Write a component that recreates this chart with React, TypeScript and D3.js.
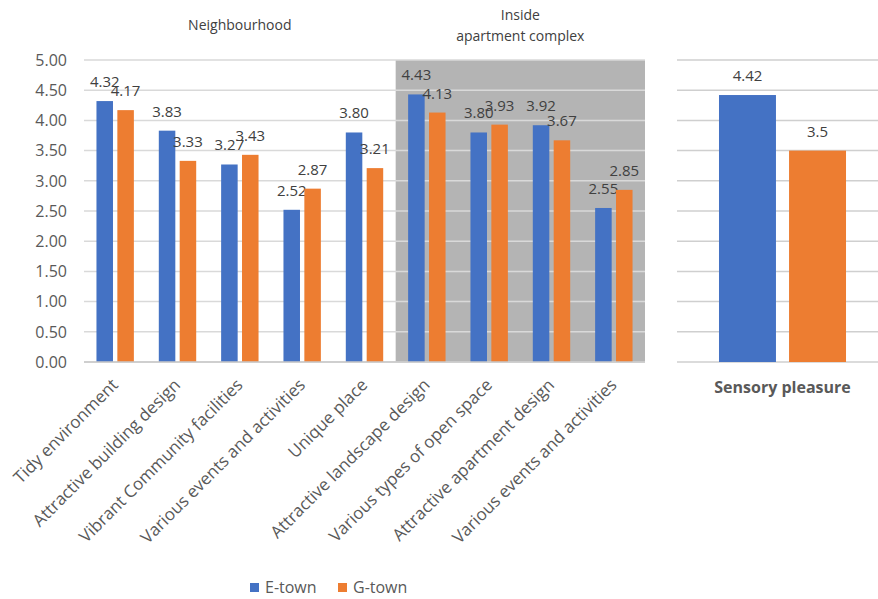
import * as d3 from "d3";

const categories = [
  "Tidy environment",
  "Attractive building design",
  "Vibrant Community facilities",
  "Various events and activities",
  "Unique place",
  "Attractive landscape design",
  "Various types of open space",
  "Attractive apartment design",
  "Various events and activities",
];
const eTown = [4.32, 3.83, 3.27, 2.52, 3.8, 4.43, 3.8, 3.92, 2.55];
const gTown = [4.17, 3.33, 3.43, 2.87, 3.21, 4.13, 3.93, 3.67, 2.85];
const groups = [
  { label: ["Neighbourhood"], from: 0, to: 4, shaded: false },
  { label: ["Inside", "apartment complex"], from: 5, to: 8, shaded: true },
];
const sensoryCategory = ["Sensory pleasure"];
const sensoryE = [4.42];
const sensoryG = [3.5];
const sensoryLabels = ["4.42", "3.5"];
const yTicks = [0, 0.5, 1, 1.5, 2, 2.5, 3, 3.5, 4, 4.5, 5];
const seriesNames = ["E-town", "G-town"];

const BLUE = "#4472C4";
const ORANGE = "#ED7D31";
const GRID = "#d9d9d9";
const TEXT = "#595959";
const FONT = "'Open Sans', sans-serif";

export default function App() {
  const width = 878;
  const height = 599;

  const y = d3.scaleLinear().domain([0, 5]).range([362, 60]);
  const x = d3.scaleBand<number>().domain(d3.range(categories.length)).range([84, 645]);
  const bw = x.bandwidth();
  const barW = bw * 0.265;
  const gap = bw * 0.07;

  const xs = d3.scaleBand<string>().domain(sensoryCategory).range([677, 888]);
  const sbw = xs.bandwidth();
  const sBarW = sbw * 0.27;
  const sGap = sbw * 0.062;

  const color = d3.scaleOrdinal<string, string>().domain(seriesNames).range([BLUE, ORANGE]);

  return (
    <svg
      width={width}
      height={height}
      style={{ position: "absolute", left: 0, top: 0, background: "#fff" }}
      fontFamily={FONT}
    >
      {/* shaded group background */}
      {groups
        .filter((g) => g.shaded)
        .map((g, i) => (
          <rect
            key={i}
            x={x(g.from)!}
            y={y(5)}
            width={x(g.to)! + bw - x(g.from)!}
            height={y(0) - y(5)}
            fill="#b4b4b4"
          />
        ))}

      {/* gridlines main */}
      {yTicks.map((t) => (
        <line key={t} x1={x.range()[0]} x2={x.range()[1]} y1={y(t)} y2={y(t)} stroke={GRID} strokeWidth={1.5} />
      ))}
      {/* gridlines sensory panel */}
      {yTicks.map((t) => (
        <line key={"s" + t} x1={677} x2={width} y1={y(t)} y2={y(t)} stroke="#cfcfcf" strokeWidth={1.5} />
      ))}

      {/* y tick labels */}
      {yTicks.map((t) => (
        <text
          key={"l" + t}
          x={67}
          y={y(t)}
          dy="0.36em"
          textAnchor="end"
          fontSize={16}
          fill={TEXT}
        >
          {t.toFixed(2)}
        </text>
      ))}

      {/* group titles */}
      {groups.map((g, i) => {
        const cx = (x(g.from)! + x(g.to)! + bw) / 2;
        const n = g.label.length;
        return (
          <text key={"g" + i} x={cx} textAnchor="middle" fontSize={14} fill="#404040">
            {g.label.map((l, j) => (
              <tspan key={j} x={cx} y={n === 1 ? 30 : 20 + j * 21}>
                {l}
              </tspan>
            ))}
          </text>
        );
      })}

      {/* bars */}
      {categories.map((c, i) => {
        const cx = x(i)! + bw / 2;
        const vals = [eTown[i], gTown[i]];
        return (
          <g key={"b" + i}>
            {vals.map((v, k) => {
              const bx = k === 0 ? cx - gap / 2 - barW : cx + gap / 2;
              return (
                <g key={k}>
                  <rect x={bx} y={y(v)} width={barW} height={y(0) - y(v)} fill={color(seriesNames[k])} />
                  <text
                    x={bx + barW / 2}
                    y={y(v) - 14}
                    textAnchor="middle"
                    fontSize={15}
                    fill="#404040"
                  >
                    {v.toFixed(2)}
                  </text>
                </g>
              );
            })}
            <text
              transform={`translate(${cx + 4},${386}) rotate(-45)`}
              textAnchor="end"
              fontSize={17}
              fill={TEXT}
            >
              {c}
            </text>
          </g>
        );
      })}

      {/* axis line */}
      <line x1={x.range()[0]} x2={x.range()[1]} y1={y(0)} y2={y(0)} stroke="#c8c8c8" strokeWidth={1.5} />

      {/* sensory pleasure panel */}
      {sensoryCategory.map((c, i) => {
        const cx = xs(c)! + sbw / 2;
        const vals = [sensoryE[i], sensoryG[i]];
        return (
          <g key={"s" + i}>
            {vals.map((v, k) => {
              const bx = k === 0 ? cx - sGap / 2 - sBarW : cx + sGap / 2;
              return (
                <g key={k}>
                  <rect x={bx} y={y(v)} width={sBarW} height={y(0) - y(v)} fill={color(seriesNames[k])} />
                  <text
                    x={bx + sBarW / 2}
                    y={y(v) - 14}
                    textAnchor="middle"
                    fontSize={15}
                    fill="#404040"
                  >
                    {sensoryLabels[k]}
                  </text>
                </g>
              );
            })}
            <text x={cx} y={393} textAnchor="middle" fontSize={16} fontWeight="bold" fill={TEXT}>
              {c}
            </text>
          </g>
        );
      })}

      {/* legend */}
      {seriesNames.map((s, i) => {
        const lx = 250 + i * 88;
        return (
          <g key={"lg" + i}>
            <rect x={lx} y={583} width={9} height={9} fill={color(s)} />
            <text x={lx + 15} y={593} fontSize={16} fill={TEXT}>
              {s}
            </text>
          </g>
        );
      })}
    </svg>
  );
}
